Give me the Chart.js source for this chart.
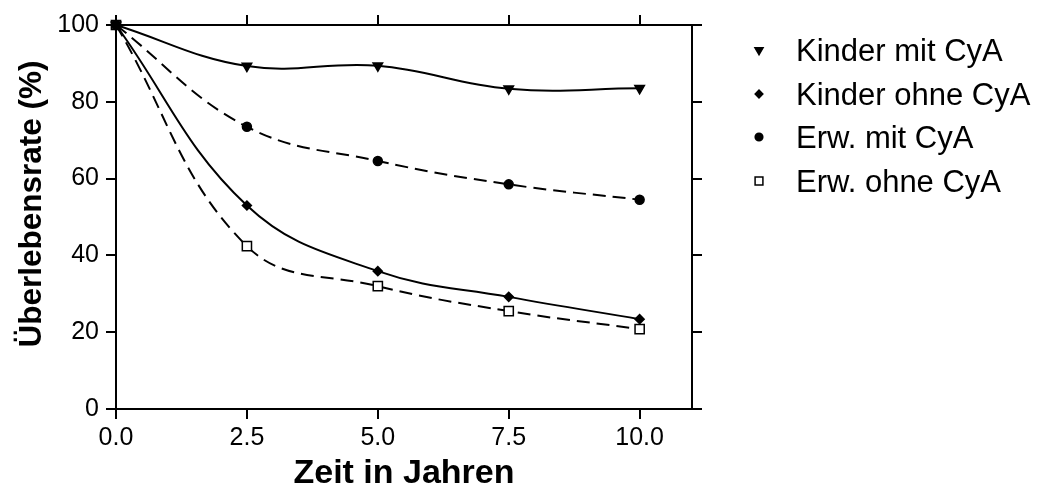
<!DOCTYPE html>
<html>
<head>
<meta charset="utf-8">
<script src="https://cdn.jsdelivr.net/npm/chart.js@4.4.1/dist/chart.umd.min.js"></script>
<style>
  body { margin: 0; background: #fff; }
  #wrap { width: 1041px; height: 500px; }
</style>
</head>
<body>
<div id="wrap"><canvas id="survChart" width="1041" height="500"></canvas></div>
<script>
// values
const years = [0, 2.5, 5, 7.5, 10];
const kinderMit = [100, 89.3, 89.4, 83.4, 83.5];
const kinderOhne = [100, 53.0, 35.9, 29.2, 23.4];
const erwMit = [100, 73.5, 64.6, 58.5, 54.5];
const erwOhne = [100, 42.4, 32.0, 25.5, 20.8];

const xTicks = [0, 2.5, 5, 7.5, 10];
const yTicks = [0, 20, 40, 60, 80, 100];
const seriesNames = ['Kinder mit CyA', 'Kinder ohne CyA', 'Erw. mit CyA', 'Erw. ohne CyA'];
const yTitle = 'Überlebensrate (%)';
const xTitle = 'Zeit in Jahren';

const black = '#000';
const fontFam = '"Liberation Sans", Arial, Helvetica, sans-serif';

function pts(vals) {
    return years.map((x, i) => ({ x: x, y: vals[i] }));
}

function mkSet(label, vals, style, radius, rot, dashed, fill) {
    return {
        label: label,
        data: pts(vals),
        borderColor: black,
        borderWidth: 2,
        borderDash: dashed ? [13, 7] : [],
        tension: 0.4,
        pointStyle: style,
        pointRadius: radius,
        pointRotation: rot,
        pointBackgroundColor: fill,
        pointBorderColor: black,
        pointBorderWidth: 1.5,
        legendRadius: radius * 0.85,
        clip: false
    };
}

const datasets = [
    mkSet(seriesNames[0], kinderMit, 'triangle', 5.5, 180, false, black),
    mkSet(seriesNames[1], kinderOhne, 'rectRot', 4.5, 0, false, black),
    mkSet(seriesNames[2], erwMit, 'circle', 4.5, 0, true, black),
    mkSet(seriesNames[3], erwOhne, 'rect', 6.5, 0, true, '#fff')
];

// legend on the right + y title, drawn by hand so the plot box keeps its size
const sideLegend = {
    id: 'sideLegend',
    afterDraw(chart) {
        const ctx = chart.ctx;
        const rows = [61, 105, 148, 192];
        ctx.save();
        chart.data.datasets.forEach((ds, i) => {
            const cy = rows[i] - 11;
            ctx.fillStyle = ds.pointBackgroundColor;
            ctx.strokeStyle = black;
            ctx.lineWidth = 1.5;
            ctx.setLineDash([]);
            Chart.helpers.drawPoint(ctx, {
                pointStyle: ds.pointStyle,
                radius: ds.legendRadius,
                rotation: ds.pointRotation,
                borderWidth: 1.5
            }, 759, cy);
            ctx.fillStyle = black;
            ctx.font = '31px ' + fontFam;
            ctx.textAlign = 'left';
            ctx.textBaseline = 'alphabetic';
            ctx.fillText(ds.label, 796, rows[i]);
        });

        ctx.translate(32, 204);
        ctx.rotate(-Math.PI / 2);
        ctx.font = 'bold 31.5px ' + fontFam;
        ctx.textAlign = 'center';
        ctx.textBaseline = 'middle';
        ctx.fillText(yTitle, 0, 0);
        ctx.restore();
    }
};

function axisGrid() {
    return {
        drawOnChartArea: false,
        drawTicks: true,
        tickLength: 10,
        color: black,
        tickColor: black,
        lineWidth: 2,
        tickWidth: 2
    };
}

const ctx = document.getElementById('survChart').getContext('2d');
new Chart(ctx, {
    type: 'line',
    data: { datasets: datasets },
    options: {
        responsive: false,
        animation: false,
        layout: { padding: 0 },
        plugins: {
            legend: { display: false },
            tooltip: { enabled: false }
        },
        scales: {
            x: {
                type: 'linear',
                position: 'bottom',
                min: 0,
                max: 11,
                afterBuildTicks: s => { s.ticks = xTicks.map(v => ({ value: v })); },
                afterFit: s => { s.height = 91; },
                border: { display: true, color: black, width: 2 },
                grid: axisGrid(),
                ticks: {
                    color: black,
                    padding: 4,
                    maxRotation: 0,
                    font: { family: fontFam, size: 25 },
                    callback: v => Number(v).toFixed(1)
                },
                title: {
                    display: true,
                    text: xTitle,
                    color: black,
                    font: { family: fontFam, size: 34, weight: 'bold' },
                    padding: { top: 0, bottom: 6 }
                }
            },
            x2: {
                type: 'linear',
                position: 'top',
                min: 0,
                max: 11,
                afterBuildTicks: s => { s.ticks = xTicks.map(v => ({ value: v })); },
                afterFit: s => { s.height = 25; },
                border: { display: true, color: black, width: 2 },
                grid: axisGrid(),
                ticks: { display: false }
            },
            y: {
                type: 'linear',
                position: 'left',
                min: 0,
                max: 100,
                afterBuildTicks: s => { s.ticks = yTicks.map(v => ({ value: v })); },
                afterFit: s => { s.width = 116; },
                border: { display: true, color: black, width: 2 },
                grid: axisGrid(),
                ticks: {
                    color: black,
                    padding: 7,
                    font: { family: fontFam, size: 25 }
                }
            },
            y2: {
                type: 'linear',
                position: 'right',
                min: 0,
                max: 100,
                afterBuildTicks: s => { s.ticks = yTicks.map(v => ({ value: v })); },
                afterFit: s => { s.width = 349; },
                border: { display: true, color: black, width: 2 },
                grid: axisGrid(),
                ticks: { display: false }
            }
        }
    },
    plugins: [sideLegend]
});
</script>
</body>
</html>
